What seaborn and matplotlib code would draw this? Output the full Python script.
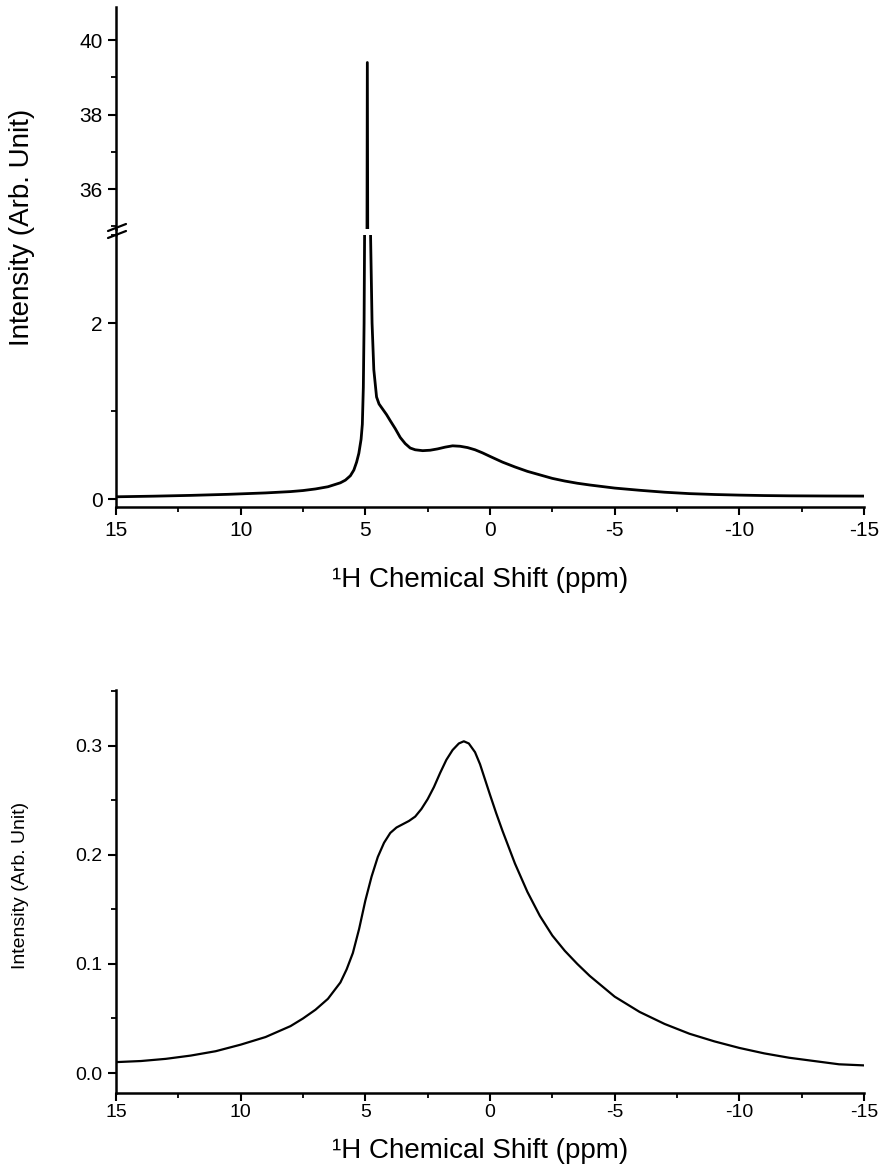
import pandas as pd
import numpy as np
import matplotlib.pyplot as plt
import seaborn as sns
from matplotlib.lines import Line2D
from matplotlib.ticker import MultipleLocator

# 1H NMR spectra (ppm, arb. units)
top_ppm = [15, 13.5, 12, 10.5, 9, 8, 7.5, 7, 6.5, 6.0, 5.8, 5.6, 5.46, 5.35, 5.26, 5.17, 5.12,
           5.08, 5.05, 5.03, 4.92, 4.79, 4.73, 4.66, 4.55, 4.45, 4.3, 4.15, 4.0, 3.8, 3.6,
           3.4, 3.2, 3.0, 2.7, 2.4, 2.1, 1.8, 1.5, 1.2, 0.9, 0.6, 0.3, 0.0, -0.5, -1.0,
           -1.5, -2.0, -2.5, -3.0, -3.5, -4.0, -5.0, -6.0, -7.0, -8.0, -9.0, -10.0, -11.0,
           -12.0, -13.5, -15]
top_int = [0.026, 0.033, 0.042, 0.054, 0.07, 0.085, 0.097, 0.115, 0.14, 0.185, 0.215, 0.265,
           0.33, 0.42, 0.52, 0.68, 0.85, 1.27, 2.0, 3.0, 39.4, 3.0, 2.0, 1.47, 1.16, 1.08, 1.02,
           0.96, 0.89, 0.80, 0.70, 0.63, 0.58, 0.56, 0.55, 0.555, 0.57, 0.59, 0.605, 0.60,
           0.585, 0.56, 0.525, 0.485, 0.42, 0.365, 0.315, 0.275, 0.235, 0.205, 0.18, 0.16,
           0.125, 0.10, 0.078, 0.062, 0.052, 0.045, 0.040, 0.037, 0.035, 0.034]

bot_ppm = [15, 14, 13, 12, 11, 10, 9, 8, 7.5, 7, 6.5, 6.0, 5.75, 5.5, 5.25, 5.0, 4.75, 4.5,
           4.25, 4.0, 3.75, 3.5, 3.25, 3.0, 2.75, 2.5, 2.25, 2.0, 1.75, 1.5, 1.25, 1.05,
           0.85, 0.6, 0.4, 0.2, 0.0, -0.25, -0.5, -0.75, -1.0, -1.5, -2.0, -2.5, -3.0,
           -3.5, -4.0, -5.0, -6.0, -7.0, -8.0, -9.0, -10.0, -11.0, -12.0, -13.0, -14.0, -15]
bot_int = [0.010, 0.011, 0.013, 0.016, 0.020, 0.026, 0.033, 0.043, 0.050, 0.058, 0.068,
           0.083, 0.095, 0.110, 0.132, 0.158, 0.180, 0.198, 0.211, 0.220, 0.225, 0.228,
           0.231, 0.235, 0.242, 0.251, 0.262, 0.275, 0.287, 0.296, 0.302, 0.304, 0.302,
           0.294, 0.283, 0.269, 0.255, 0.238, 0.222, 0.207, 0.192, 0.166, 0.144, 0.126,
           0.112, 0.100, 0.089, 0.070, 0.056, 0.045, 0.036, 0.029, 0.023, 0.018, 0.014,
           0.011, 0.008, 0.007]

xlab = "\u00b9H Chemical Shift (ppm)"
ylab = "Intensity (Arb. Unit)"

sns.set_style("ticks")
plt.rcParams['font.family'] = ['Liberation Sans', 'DejaVu Sans']
plt.rcParams['axes.linewidth'] = 1.8
plt.rcParams['axes.edgecolor'] = 'black'
plt.rcParams['xtick.color'] = 'black'
plt.rcParams['ytick.color'] = 'black'
plt.rcParams['text.color'] = 'black'
plt.rcParams['axes.unicode_minus'] = False

W, H = 882, 1170
fig = plt.figure(figsize=(W / 100, H / 100), dpi=100)


def fx(px):
    return px / W


def fy(py):
    return 1 - py / H


left, right = 116, 864
ax_hi = fig.add_axes([fx(left), fy(229), fx(right - left), (229 - 7) / H])
ax_lo = fig.add_axes([fx(left), fy(507), fx(right - left), (507 - 235) / H])
ax_b = fig.add_axes([fx(left), fy(1093), fx(right - left), (1093 - 690) / H])

top_df = pd.DataFrame({'ppm': top_ppm, 'intensity': top_int})
bot_df = pd.DataFrame({'ppm': bot_ppm, 'intensity': bot_int})

for ax in (ax_hi, ax_lo):
    sns.lineplot(data=top_df, x='ppm', y='intensity', ax=ax, color='black',
                 linewidth=2.0, estimator=None, sort=False)
sns.lineplot(data=bot_df, x='ppm', y='intensity', ax=ax_b, color='black',
             linewidth=1.6, estimator=None, sort=False)

ax_hi.set_ylim(34.93, 40.89)
ax_lo.set_ylim(-0.09, 3.0)
ax_b.set_ylim(-0.0183, 0.351)

for ax in (ax_hi, ax_lo, ax_b):
    ax.set_xlim(15, -15)
    ax.set_xlabel('')
    ax.set_ylabel('')
    for s in ('top', 'right'):
        ax.spines[s].set_visible(False)
    ax.tick_params(axis='both', which='major', direction='out', length=6, width=1.5,
                   labelsize=15, labelcolor='black')
    ax.tick_params(axis='both', which='minor', direction='out', length=3.5, width=1.3)
    ax.xaxis.set_major_locator(MultipleLocator(5))
    ax.xaxis.set_minor_locator(MultipleLocator(2.5))
    ax.set_facecolor('none')

ax_hi.spines['bottom'].set_visible(False)
ax_hi.tick_params(axis='x', which='both', bottom=False, labelbottom=False)

ax_hi.yaxis.set_major_locator(MultipleLocator(2))
ax_hi.yaxis.set_minor_locator(MultipleLocator(1))
ax_lo.yaxis.set_major_locator(MultipleLocator(2))
ax_lo.yaxis.set_minor_locator(MultipleLocator(1))
ax_b.yaxis.set_major_locator(MultipleLocator(0.1))
ax_b.yaxis.set_minor_locator(MultipleLocator(0.05))
ax_b.yaxis.set_major_formatter(plt.FormatStrFormatter('%.1f'))

ax_lo.tick_params(axis='x', which='major', pad=4)
ax_b.tick_params(axis='x', which='major', pad=2, labelsize=14)
ax_b.tick_params(axis='y', which='major', labelsize=14)

# axis break on the left spine
fig.add_artist(Line2D([fx(left), fx(left)], [fy(229), fy(235)], color='black',
                      lw=1.8, transform=fig.transFigure))
for y0 in (229, 236):
    fig.add_artist(Line2D([fx(108), fx(126)], [fy(y0 + 2), fy(y0 - 5)], color='black',
                          lw=1.6, transform=fig.transFigure))

fig.text(fx(22), fy(227), ylab, rotation=90, ha='center', va='center', fontsize=20)
fig.text(fx(21), fy(885), ylab, rotation=90, ha='center', va='center', fontsize=14)
fig.text(fx(480), fy(580), xlab, ha='center', va='center', fontsize=20)
fig.text(fx(480), fy(1151), xlab, ha='center', va='center', fontsize=20)

fig.savefig('out.png', dpi=100, facecolor='white')
